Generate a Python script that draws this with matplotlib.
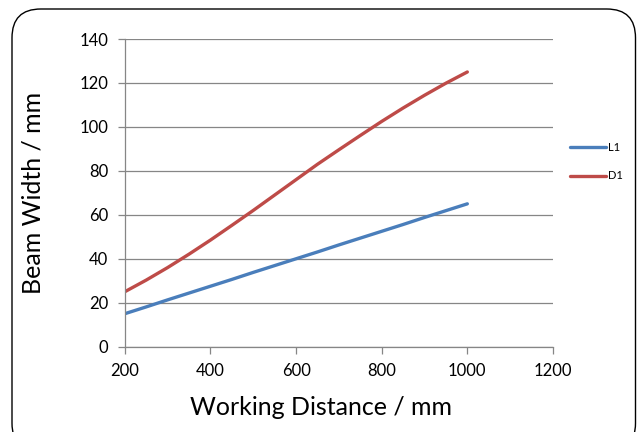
import matplotlib
matplotlib.use("Agg")
import matplotlib.pyplot as plt
from matplotlib.patches import FancyBboxPatch

# values
distance = [200, 250, 300, 350, 400, 450, 500, 550, 600,
            650, 700, 750, 800, 850, 900, 950, 1000]
l1_width = [15, 18.1, 21.3, 24.4, 27.5, 30.6, 33.8, 36.9, 40,
            43.1, 46.3, 49.4, 52.5, 55.6, 58.8, 61.9, 65]
d1_width = [25, 30.3, 36, 42.1, 48.5, 55.2, 62, 69, 76,
            83, 89.6, 96.1, 102.5, 108.6, 114.4, 119.9, 125]

x_ticks = [200, 400, 600, 800, 1000, 1200]
y_ticks = [0, 20, 40, 60, 80, 100, 120, 140]

plt.rcParams['font.family'] = ['Lato', 'DejaVu Sans']

fig = plt.figure(figsize=(6.4, 4.32), dpi=100)
ax = fig.add_axes([0.195, 0.1975, 0.669, 0.7122])

# rounded chart border
W, H = 640, 432
border = FancyBboxPatch((12 / W, -20 / H), 623.5 / W, (432 - 9 + 20) / H,
                        boxstyle="round,pad=0,rounding_size=0.045",
                        transform=fig.transFigure, fill=False,
                        edgecolor='black', linewidth=1.0,
                        mutation_aspect=W / H)
fig.patches.append(border)

ax.plot(distance, l1_width, color='#4A7EBB', linewidth=2.4, label='L1',
        solid_capstyle='round')
ax.plot(distance, d1_width, color='#BE4B48', linewidth=2.4, label='D1',
        solid_capstyle='round')

ax.set_xlim(200, 1200)
ax.set_ylim(0, 140)
ax.set_xticks(x_ticks)
ax.set_yticks(y_ticks)
ax.grid(axis='y', color='#868686', linewidth=0.9)
ax.set_axisbelow(True)

for side in ['top', 'right']:
    ax.spines[side].set_visible(False)
for side in ['left', 'bottom']:
    ax.spines[side].set_color('#868686')
    ax.spines[side].set_linewidth(0.9)
ax.tick_params(axis='both', colors='#868686', labelcolor='black',
               labelsize=12, length=5, width=0.9)
ax.tick_params(axis='x', pad=7)
ax.tick_params(axis='y', pad=7)

ax.set_xlabel('Working Distance / mm', fontsize=18)
ax.xaxis.set_label_coords(0.459, -0.16)
ax.set_ylabel('Beam Width / mm', fontsize=18, labelpad=25)

ax.legend(loc='center left', bbox_to_anchor=(0.875, 0.626),
          bbox_transform=fig.transFigure, frameon=False, fontsize=8,
          handlelength=3.2, handletextpad=0.2, labelspacing=1.6)

fig.savefig('out.png', dpi=100)
